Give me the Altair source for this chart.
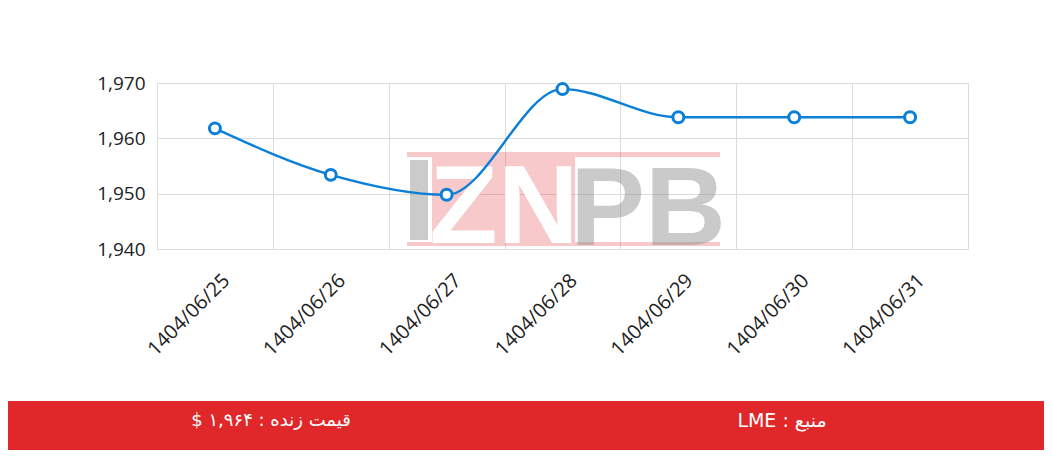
import altair as alt
import pandas as pd

# ---- data ----
dates = ["1404/06/25", "1404/06/26", "1404/06/27", "1404/06/28",
         "1404/06/29", "1404/06/30", "1404/06/31"]
prices = [1961.8, 1953.4, 1949.8, 1968.9, 1963.8, 1963.8, 1963.8]
y_ticks = [1940, 1950, 1960, 1970]
# logical order arranged so the left-to-right SVG text shows the RTL reading
live_price_label = "$ قیمت زنده : ۱,۹۶۴"
source_label = "LME : منبع"
wm_mid = "ZN"
wm_right = "PB"

df = pd.DataFrame({"date": dates, "price": prices})
one = alt.Data(values=[{"k": 0}])

BLUE = "#0a7fd8"
RED = "#e0282a"
GRID = "#dcdcdc"
W, H = 811, 166

x_enc = alt.X(
    "date:N", sort=dates, bandPosition=0.5,
    scale=alt.Scale(type="band", paddingInner=0, paddingOuter=0),
    axis=alt.Axis(title=None, labelAngle=-45, tickBand="extent", ticks=False,
                  domain=False, grid=True, gridColor=GRID, labelFont="Open Sans",
                  labelFontSize=20, labelColor="#222222", labelPadding=21,
                  labelOffset=4),
)
y_enc = alt.Y(
    "price:Q",
    scale=alt.Scale(domain=[1940, 1970], nice=False, zero=False),
    axis=alt.Axis(title=None, values=y_ticks, format=",d", ticks=False, domain=False,
                  gridColor=GRID, labelFont="Open Sans", labelFontSize=19,
                  labelColor="#222222", labelPadding=12),
)


def deco_rect(x1, x2, y1, y2, color, op):
    return alt.Chart(one).mark_rect(color=color, opacity=op).encode(
        x=alt.value(x1), x2=alt.value(x2), y=alt.value(y1), y2=alt.value(y2)
    )


def deco_text(txt, xv, yv, **kw):
    return alt.Chart(one).mark_text(text=txt, **kw).encode(
        x=alt.value(xv), y=alt.value(yv)
    )


# watermark
wm = [
    deco_rect(250, 563, 69, 74, RED, 0.25),
    deco_rect(250, 563, 159, 163, RED, 0.25),
    deco_rect(275, 418, 74, 159, RED, 0.25),
    deco_rect(253, 271, 77, 157, "#8c8c8c", 0.45),
    deco_text(wm_mid, 347, 160, font="Liberation Sans", fontWeight="bold",
              fontSize=112, color="white", align="center", baseline="alphabetic"),
    deco_text(wm_right, 491, 162, font="Liberation Sans", fontWeight="bold",
              fontSize=112, color="#8c8c8c", opacity=0.45, align="center",
              baseline="alphabetic"),
]

line = alt.Chart(df).mark_line(interpolate="monotone", color=BLUE, strokeWidth=2.4).encode(
    x=x_enc, y=y_enc)
pts = alt.Chart(df).mark_point(shape="circle", filled=True, fill="white", stroke=BLUE,
                               strokeWidth=3, size=120, opacity=1).encode(x=x_enc, y=y_enc)

footer = [
    deco_rect(-170, 900, 318, 380, RED, 1),
    deco_text(live_price_label, 114, 338, font="DejaVu Sans", fontSize=18, color="white",
              align="center", baseline="middle"),
    deco_text(source_label, 625, 338, font="DejaVu Sans", fontSize=19, color="white",
              align="center", baseline="middle"),
]

chart = alt.layer(*wm, line, pts, *footer).properties(
    width=W, height=H,
    padding={"left": 149, "top": 75, "right": 76, "bottom": 201},
    autosize=alt.AutoSizeParams(type="none"),
    background="white",
).configure_view(stroke=GRID)

chart.save("out.html", embed_options={"renderer": "svg", "actions": False})
